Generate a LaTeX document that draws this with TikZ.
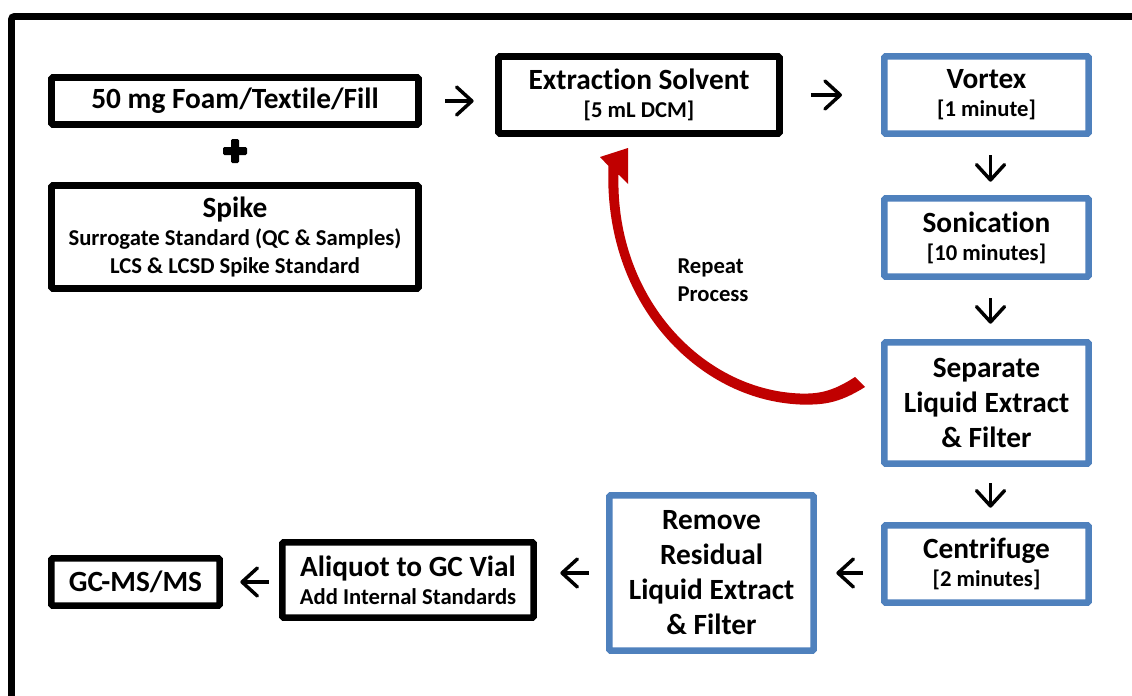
\documentclass[tikz,border=0pt]{standalone}
\usepackage{fontspec}
\setmainfont{Carlito}[Ligatures={NoCommon,NoContextual,NoRare}]
\usetikzlibrary{arrows.meta}
\definecolor{boxblue}{HTML}{4F81BD}
\definecolor{loopred}{HTML}{C00000}
\newcommand{\titlefont}{\fontsize{22}{26.25}\selectfont\bfseries}
\newcommand{\subfont}{\fontsize{17}{21}\selectfont\bfseries}
\begin{document}
\begin{tikzpicture}[x=0.75pt,y=-0.75pt,
  bbox/.style={draw=black, line width=5pt, rounded corners=1pt, inner sep=0pt, align=center, fill=white},
  ubox/.style={bbox, draw=boxblue},
  flow/.style={line width=2.6pt, -{Straight Barb[length=11.5pt,width=21pt,round]}},
]
\useasboundingbox (0,0) rectangle (1132,696);
\fill[white] (0,0) rectangle (1132,696);
% outer frame
\draw[line width=5pt, rounded corners=2pt] (11.5,730) -- (11.5,16.5) -- (1160,16.5);

% boxes
\node[bbox, font=\titlefont, minimum width=367*0.75pt, minimum height=47*0.75pt] (foam) at (235,101) {50 mg Foam/Textile/Fill};
\node[bbox, font=\subfont, minimum width=367*0.75pt, minimum height=103*0.75pt] (spike) at (235,237)
  {{\titlefont Spike}\\Surrogate Standard (QC \& Samples)\\LCS \& LCSD Spike Standard};
\node[bbox, font=\subfont, minimum width=281*0.75pt, minimum height=77*0.75pt] (ext) at (639,95)
  {{\titlefont Extraction Solvent}\\{[5 mL DCM]}};
\node[ubox, font=\subfont, minimum width=204.3*0.75pt, minimum height=77.3*0.75pt] (vortex) at (986.5,95)
  {{\titlefont Vortex}\\{[1 minute]}};
\node[ubox, font=\subfont, minimum width=204.3*0.75pt, minimum height=78.3*0.75pt] (sonic) at (986.5,237.5)
  {{\titlefont Sonication}\\{[10 minutes]}};
\node[ubox, font=\titlefont, minimum width=204.3*0.75pt, minimum height=121.3*0.75pt] (sep) at (986.5,403)
  {Separate\\Liquid Extract\\\& Filter};
\node[ubox, font=\subfont, minimum width=204.3*0.75pt, minimum height=77.3*0.75pt] (cent) at (986.5,564)
  {{\titlefont Centrifuge}\\{[2 minutes]}};
\node[ubox, font=\titlefont, minimum width=204.3*0.75pt, minimum height=155.3*0.75pt] (rem) at (711.5,573)
  {Remove\\Residual\\Liquid Extract\\\& Filter};
\node[bbox, font=\subfont, minimum width=251.3*0.75pt, minimum height=75.3*0.75pt] (ali) at (408,580)
  {{\titlefont Aliquot to GC Vial}\\Add Internal Standards};
\node[bbox, font=\titlefont, minimum width=168.3*0.75pt, minimum height=47.3*0.75pt] (gc) at (135.5,582)
  {GC-MS/MS};

% plus sign
\fill[rounded corners=1pt] (223,147) rectangle (247,155);
\fill[rounded corners=1pt] (231,139) rectangle (239,163);

% flow arrows
\draw[flow, shorten <=23.5*0.75pt, shorten >=21.5*0.75pt] (foam.east) -- (foam.east -| ext.west);
\draw[flow, shorten <=28*0.75pt, shorten >=39*0.75pt] (ext.east) -- (vortex.west);
\draw[flow, shorten <=18.3*0.75pt, shorten >=13.3*0.75pt] ([xshift=3pt]vortex.south) -- ([xshift=3pt]sonic.north);
\draw[flow, shorten <=18.3*0.75pt, shorten >=15.3*0.75pt] ([xshift=3pt]sonic.south) -- ([xshift=3pt]sep.north);
\draw[flow, shorten <=16.3*0.75pt, shorten >=14.3*0.75pt] ([xshift=3pt]sep.south) -- ([xshift=3pt]cent.north);
\draw[flow, shorten <=18.3*0.75pt, shorten >=19.3*0.75pt] (cent.west |- rem.east) -- (rem.east);
\draw[flow, shorten <=17.3*0.75pt, shorten >=23.3*0.75pt] (rem.west) -- (rem.west -| ali.east);
\draw[flow, shorten <=10.3*0.75pt, shorten >=17.3*0.75pt] (ali.west |- gc.east) -- (gc.east);

% repeat loop arrow
\fill[loopred] (865,387) .. controls (838,404) and (822,405) .. (800,404.5)
  .. controls (697,400) and (603,302) .. (608.5,166)
  -- (600,157) -- (628,148) -- (628,184) -- (618.5,174.5)
  .. controls (615,298) and (703,390) .. (800,393.5)
  .. controls (818,394) and (832,392) .. (855,377) -- cycle;
\node[font=\subfont, align=left, inner sep=0pt] (rep) at (713,280) {Repeat\\Process};
\end{tikzpicture}
\end{document}
